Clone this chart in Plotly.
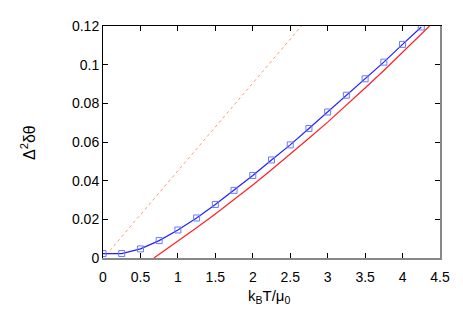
import plotly.graph_objects as go

# data
blue_x = [0, 0.25, 0.5, 0.75, 1.0, 1.25, 1.5, 1.75, 2.0, 2.25, 2.5, 2.75, 3.0, 3.25, 3.5, 3.75, 4.0, 4.25]
blue_y = [0.0023, 0.0023, 0.0047, 0.009, 0.0145, 0.0207, 0.0277, 0.035, 0.0427, 0.0507,
          0.0585, 0.067, 0.0755, 0.0842, 0.0927, 0.1013, 0.1105, 0.1195]

red_x = [0.68, 0.75, 1.0, 1.25, 1.5, 1.75, 2.0, 2.25, 2.5, 2.75, 3.0, 3.25, 3.5, 3.75, 4.0, 4.25, 4.36]
red_y = [0.0, 0.0019, 0.0086, 0.0156, 0.0228, 0.0302, 0.0378, 0.0456, 0.0536, 0.0619,
         0.0703, 0.0790, 0.0879, 0.0970, 0.1063, 0.1158, 0.12]

dot_x = [0.04, 2.65]
dot_y = [0.0015, 0.12]

x_ticks = [0, 0.5, 1, 1.5, 2, 2.5, 3, 3.5, 4, 4.5]
x_labels = ["0", "0.5", "1", "1.5", "2", "2.5", "3", "3.5", "4", "4.5"]
y_ticks = [0, 0.02, 0.04, 0.06, 0.08, 0.1, 0.12]
y_labels = ["0", "0.02", "0.04", "0.06", "0.08", "0.1", "0.12"]

fig = go.Figure()
fig.add_trace(go.Scatter(x=dot_x, y=dot_y, mode="lines",
                         line=dict(color="#ff9a70", width=1, dash="dot"), showlegend=False))
fig.add_trace(go.Scatter(x=red_x, y=red_y, mode="lines",
                         line=dict(color="#ff2020", width=1.2), showlegend=False))
fig.add_trace(go.Scatter(x=blue_x, y=blue_y, mode="lines",
                         line=dict(color="#2020ff", width=1.2), showlegend=False))
fig.add_trace(go.Scatter(x=blue_x, y=blue_y, mode="markers",
                         marker=dict(symbol="square-open", size=6, color="#6a7aff",
                                     line=dict(width=1, color="#6a7aff")),
                         showlegend=False))

family = "Liberation Sans, Arial, sans-serif"
font = dict(family=family, size=14, color="black")

fig.update_layout(
    width=463, height=324,
    margin=dict(l=95, r=31, t=10, b=74),
    paper_bgcolor="white", plot_bgcolor="white",
    font=font,
    xaxis=dict(range=[0, 4.5], tickvals=x_ticks, ticktext=x_labels,
               ticks="inside", ticklen=5, tickcolor="black", tickwidth=1,
               ticklabelstandoff=5,
               showline=True, linecolor="#888888", linewidth=2,
               showgrid=False, zeroline=False),
    yaxis=dict(range=[0, 0.12], tickvals=y_ticks, ticktext=y_labels,
               ticks="inside", ticklen=5, tickcolor="black", tickwidth=1,
               showline=True, linecolor="black", linewidth=1,
               showgrid=False, zeroline=False),
    xaxis2=dict(range=[0, 4.5], overlaying="x", side="top", tickvals=x_ticks,
                showticklabels=False, ticks="inside", ticklen=5, tickcolor="black",
                showline=True, linecolor="black", linewidth=1, showgrid=False, zeroline=False),
    yaxis2=dict(range=[0, 0.12], overlaying="y", side="right", tickvals=y_ticks,
                showticklabels=False, ticks="inside", ticklen=5, tickcolor="black",
                showline=True, linecolor="#888888", linewidth=2, showgrid=False, zeroline=False),
    annotations=[
        dict(text="Δ<sup>2</sup>δθ", xref="paper", yref="paper",
             x=-0.2226, y=0.5, xanchor="center", yanchor="middle",
             textangle=-90, showarrow=False,
             font=dict(family=family, size=16, color="black")),
        dict(text="k<sub>B</sub>T/μ<sub>0</sub>", xref="paper", yref="paper",
             x=0.4955, y=-0.1667, xanchor="center", yanchor="middle",
             showarrow=False, font=dict(family=family, size=15, color="black")),
    ],
)
fig.add_trace(go.Scatter(x=[None], y=[None], xaxis="x2", yaxis="y2", showlegend=False))

fig.write_html("out.html")
